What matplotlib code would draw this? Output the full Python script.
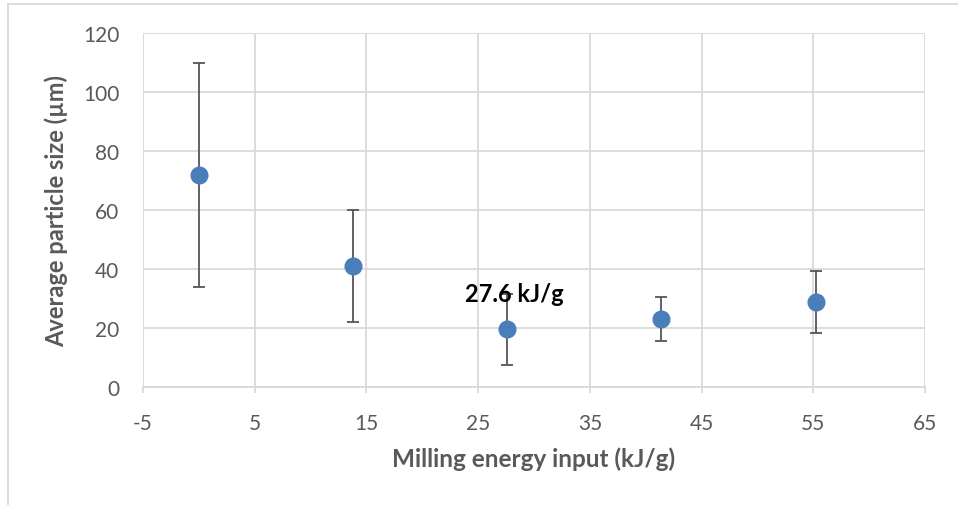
import matplotlib
matplotlib.use("Agg")
import matplotlib.pyplot as plt

# Milling energy input (kJ/g) and measured average particle size (µm)
energy = [0.0, 13.8, 27.6, 41.4, 55.2]
size_mean = [72.0, 41.0, 19.5, 23.0, 28.8]
size_err = [38.0, 19.0, 12.0, 7.5, 10.5]

x_ticks = [-5, 5, 15, 25, 35, 45, 55, 65]
y_ticks = [0, 20, 40, 60, 80, 100, 120]

highlight_idx = 2
highlight_label = f"{energy[highlight_idx]} kJ/g"

plt.rcParams['font.family'] = ['Lato', 'DejaVu Sans']
plt.rcParams['axes.unicode_minus'] = False

fig = plt.figure(figsize=(9.58, 5.06), dpi=100)
ax = fig.add_axes([143 / 958, 1 - 388 / 506, (925 - 143) / 958, (388 - 34) / 506])

grid_c = '#d9d9d9'
text_c = '#595959'

ax.errorbar(energy, size_mean, yerr=size_err, fmt='o', color='#4a7ebb',
            markersize=12, ecolor='#555555', elinewidth=1.3, capsize=4.5,
            capthick=1.3, zorder=3)

ax.annotate(highlight_label, xy=(energy[highlight_idx], size_mean[highlight_idx]),
            xytext=(5, 26), textcoords='offset points', ha='center', va='center',
            fontsize=17, fontweight='bold', color='black', zorder=4)

ax.set_xlim(-5, 65)
ax.set_ylim(0, 120)
ax.set_xticks(x_ticks)
ax.set_yticks(y_ticks)
ax.grid(True, color=grid_c, linewidth=1.3, zorder=0)
ax.set_axisbelow(True)

for side in ['top', 'right', 'left']:
    ax.spines[side].set_visible(False)
ax.spines['bottom'].set_color(grid_c)
ax.spines['bottom'].set_linewidth(1.3)

ax.tick_params(axis='x', colors=text_c, labelsize=15, length=4.5, width=1.3,
               color=grid_c, pad=14)
ax.tick_params(axis='y', colors=text_c, labelsize=15, length=0, pad=17)

ax.set_xlabel('Milling energy input (kJ/g)', fontsize=17.5, fontweight='bold',
              color=text_c, labelpad=10)
ax.set_ylabel('Average particle size (µm)', fontsize=17, fontweight='bold',
              color=text_c, labelpad=11)

# chart-area frame (top and left edges)
fig.add_artist(plt.Line2D([8 / 958, 1.0], [1 - 5 / 506, 1 - 5 / 506],
                          transform=fig.transFigure, color='#d9d9d9', linewidth=1.3))
fig.add_artist(plt.Line2D([8 / 958, 8 / 958], [0.0, 1 - 5 / 506],
                          transform=fig.transFigure, color='#d9d9d9', linewidth=1.3))

fig.savefig('out.png', dpi=100)
